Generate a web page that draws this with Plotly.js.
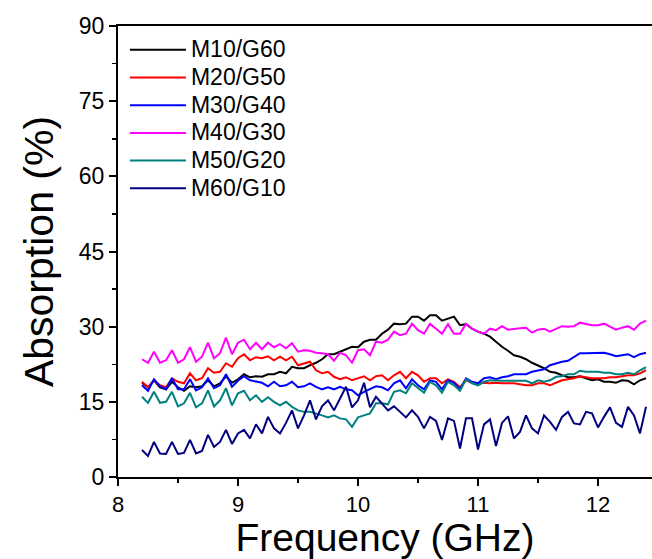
<!DOCTYPE html>
<html>
<head>
<meta charset="utf-8">
<script src="https://cdn.plot.ly/plotly-3.0.1.min.js"></script>
<style>html,body{margin:0;padding:0;background:#fff;}#chart{width:652px;height:559px;}</style>
</head>
<body>
<div id="chart"></div>
<script>
// Frequency grid: 8.2 to 12.4 GHz, 0.05 GHz step (85 points)
const freqStart = 8.2;
const freqStep = 0.05;
const nPoints = 85;
const frequency = [];
for (let i = 0; i < nPoints; i++) frequency.push(+(freqStart + i * freqStep).toFixed(2));

const seriesNames = ["M10/G60", "M20/G50", "M30/G40", "M40/G30", "M50/G20", "M60/G10"];

const m10g60 = [18.8,17.9,19.3,17.9,17.5,19.0,17.9,17.2,18.1,17.9,18.1,19.3,18.1,18.7,20.1,18.8,19.5,20.5,19.9,
  20.1,20.0,20.5,20.5,21.0,20.7,22.0,21.7,21.7,22.3,22.8,23.5,24.5,24.5,25.0,25.5,26.0,25.9,27.0,27.4,27.4,28.6,
  29.4,30.6,30.5,30.6,32.0,32.0,31.2,32.3,32.3,31.2,31.6,32.0,30.3,30.5,29.6,29.0,28.6,28.0,27.0,26.0,25.2,24.3,
  24.0,23.5,22.8,22.3,21.7,21.0,20.8,20.3,19.9,19.9,20.1,19.7,19.3,19.5,19.0,19.0,18.8,19.3,19.2,18.5,19.3,19.7];

const m20g50 = [19.0,17.9,19.3,18.3,17.9,19.7,19.0,18.7,20.7,19.3,19.7,21.7,20.8,21.0,22.7,22.0,23.7,24.5,23.3,
  23.9,23.7,24.1,23.3,24.0,23.3,24.0,22.3,22.7,23.0,21.3,20.7,21.0,20.0,19.5,19.9,19.3,19.7,20.1,19.3,20.1,20.3,
  19.3,20.3,21.0,19.7,21.0,20.3,19.0,19.7,19.7,18.7,19.5,19.0,17.9,19.3,18.8,18.7,18.8,18.7,18.8,18.7,18.7,18.7,
  18.5,18.3,18.3,18.7,18.7,18.3,18.8,19.3,19.5,19.7,20.1,19.9,19.7,19.7,19.7,19.9,19.9,20.1,20.3,20.3,20.7,21.3];

const m30g40 = [18.3,17.2,19.5,18.1,17.5,19.7,17.5,17.5,19.5,17.3,17.9,19.7,17.7,18.3,20.5,18.0,19.2,20.1,19.3,
  19.0,18.8,18.1,19.0,18.1,18.3,19.0,17.9,18.1,18.7,18.0,17.5,17.9,17.5,18.0,17.5,17.3,16.3,17.0,17.5,18.1,17.9,
  17.3,18.7,19.3,17.7,19.5,18.3,17.5,19.3,19.0,17.5,19.3,18.8,17.5,19.7,19.0,18.7,19.7,19.9,19.5,19.9,20.1,20.5,
  20.5,20.5,21.0,21.2,21.5,22.3,22.7,23.0,23.2,23.9,24.7,24.7,24.7,24.8,24.8,24.5,24.1,24.3,24.5,23.9,24.5,24.8];

const m40g30 = [23.5,22.8,25.0,22.8,23.3,25.3,22.8,23.5,25.9,23.0,24.0,26.8,23.7,24.7,27.8,24.5,26.8,27.4,25.5,
  26.8,25.5,26.8,25.9,26.5,25.7,26.7,25.0,25.3,25.2,24.8,24.7,24.5,23.2,24.8,24.3,22.8,25.3,25.5,24.3,27.0,26.8,
  27.4,29.0,28.3,28.6,30.6,29.3,28.6,30.6,29.6,28.6,30.5,28.6,28.6,30.6,29.6,29.0,28.6,29.6,29.3,30.1,29.4,29.6,
  29.7,29.8,28.8,29.4,29.6,29.0,29.6,30.1,30.0,30.1,30.8,30.6,30.3,30.3,30.6,30.0,29.4,29.8,30.1,29.4,30.6,31.2];

const m50g20 = [16.0,14.8,17.0,14.8,15.0,17.0,14.1,14.7,16.8,13.9,14.7,17.3,14.1,15.3,17.7,14.3,16.7,17.2,15.3,
  16.3,15.0,15.9,15.0,14.3,15.0,14.0,13.3,13.0,13.0,12.7,12.3,11.9,12.3,11.7,11.5,10.0,11.9,12.3,12.7,14.7,14.7,
  14.5,17.0,17.3,16.7,18.7,17.7,16.8,19.0,18.3,16.8,19.0,18.3,17.2,19.5,18.7,18.3,19.0,19.3,19.2,19.2,19.2,19.2,
  19.1,19.2,18.7,19.3,19.0,19.3,20.0,20.1,20.5,20.5,21.2,21.0,21.0,21.0,20.8,20.8,20.5,20.5,20.8,20.5,21.3,21.9];

const m60g10 = [5.4,4.2,7.0,4.7,4.6,7.0,4.6,4.8,7.4,4.7,5.2,8.4,6.0,7.0,9.4,6.6,8.7,9.4,7.7,
  10.5,8.7,12.0,9.7,8.7,10.8,13.3,9.7,12.3,15.3,11.5,14.1,15.3,13.3,15.5,18.0,13.9,15.3,18.8,13.9,16.0,14.7,
  13.3,14.1,13.0,11.9,13.3,12.0,9.7,12.0,11.2,7.4,11.7,11.2,5.7,11.7,11.7,5.5,10.5,11.5,6.2,10.8,12.1,7.7,
  9.0,12.3,9.7,8.7,12.3,11.0,9.4,12.0,13.0,10.7,10.5,13.0,12.7,9.9,12.0,13.9,10.8,10.0,14.0,12.3,8.7,14.0];

const seriesValues = [m10g60, m20g50, m30g40, m40g30, m50g20, m60g10];
const seriesColors = ["#000000", "#ff0000", "#0000ff", "#ff00ff", "#008080", "#000080"];

const xTickVals = [8, 9, 10, 11, 12];
const yTickVals = [0, 15, 30, 45, 60, 75, 90];

const FONT = "Liberation Sans, Arial, Helvetica, sans-serif";

const traces = seriesNames.map((name, k) => ({
  x: frequency,
  y: seriesValues[k],
  name: '<span style="font-size:23px">' + name + '</span>',
  type: "scatter",
  mode: "lines",
  line: { color: seriesColors[k], width: 2 }
}));

const layout = {
  width: 652,
  height: 559,
  margin: { l: 118, r: 0, t: 26, b: 82 },
  paper_bgcolor: "#ffffff",
  plot_bgcolor: "#ffffff",
  font: { family: FONT, color: "#000" },
  showlegend: true,
  legend: {
    x: 0.013, y: 0.989, xanchor: "left", yanchor: "top",
    bgcolor: "rgba(0,0,0,0)",
    font: { family: FONT, size: 19, color: "#000" },
    itemwidth: 56,
    tracegroupgap: 0
  },
  xaxis: {
    range: [8, 12.45],
    tickvals: xTickVals,
    ticktext: xTickVals.map(String),
    ticks: "outside",
    ticklen: 7,
    tickwidth: 2,
    tickcolor: "#000",
    ticklabelstandoff: 0,
    showline: true,
    linewidth: 2,
    linecolor: "#000",
    mirror: true,
    showgrid: false,
    zeroline: false,
    tickfont: { family: FONT, size: 22, color: "#000" },
    minor: { dtick: 0.5, tick0: 8, ticks: "outside", ticklen: 4, tickwidth: 1.5, tickcolor: "#000", showgrid: false },
    title: { text: "Frequency (GHz)", font: { family: FONT, size: 39, color: "#000" }, standoff: 5 }
  },
  yaxis: {
    range: [0, 90],
    tickvals: yTickVals,
    ticktext: yTickVals.map(String),
    ticks: "outside",
    ticklen: 7,
    tickwidth: 2,
    tickcolor: "#000",
    showline: true,
    linewidth: 2,
    linecolor: "#000",
    mirror: false,
    showgrid: false,
    zeroline: false,
    tickfont: { family: FONT, size: 23, color: "#000" },
    minor: { dtick: 7.5, tick0: 0, ticks: "outside", ticklen: 4, tickwidth: 1.5, tickcolor: "#000", showgrid: false },
    title: { text: "Absorption (%)", font: { family: FONT, size: 41, color: "#000" }, standoff: 12 }
  }
};

Plotly.newPlot("chart", traces, layout, { displayModeBar: false, staticPlot: true });
</script>
</body>
</html>
